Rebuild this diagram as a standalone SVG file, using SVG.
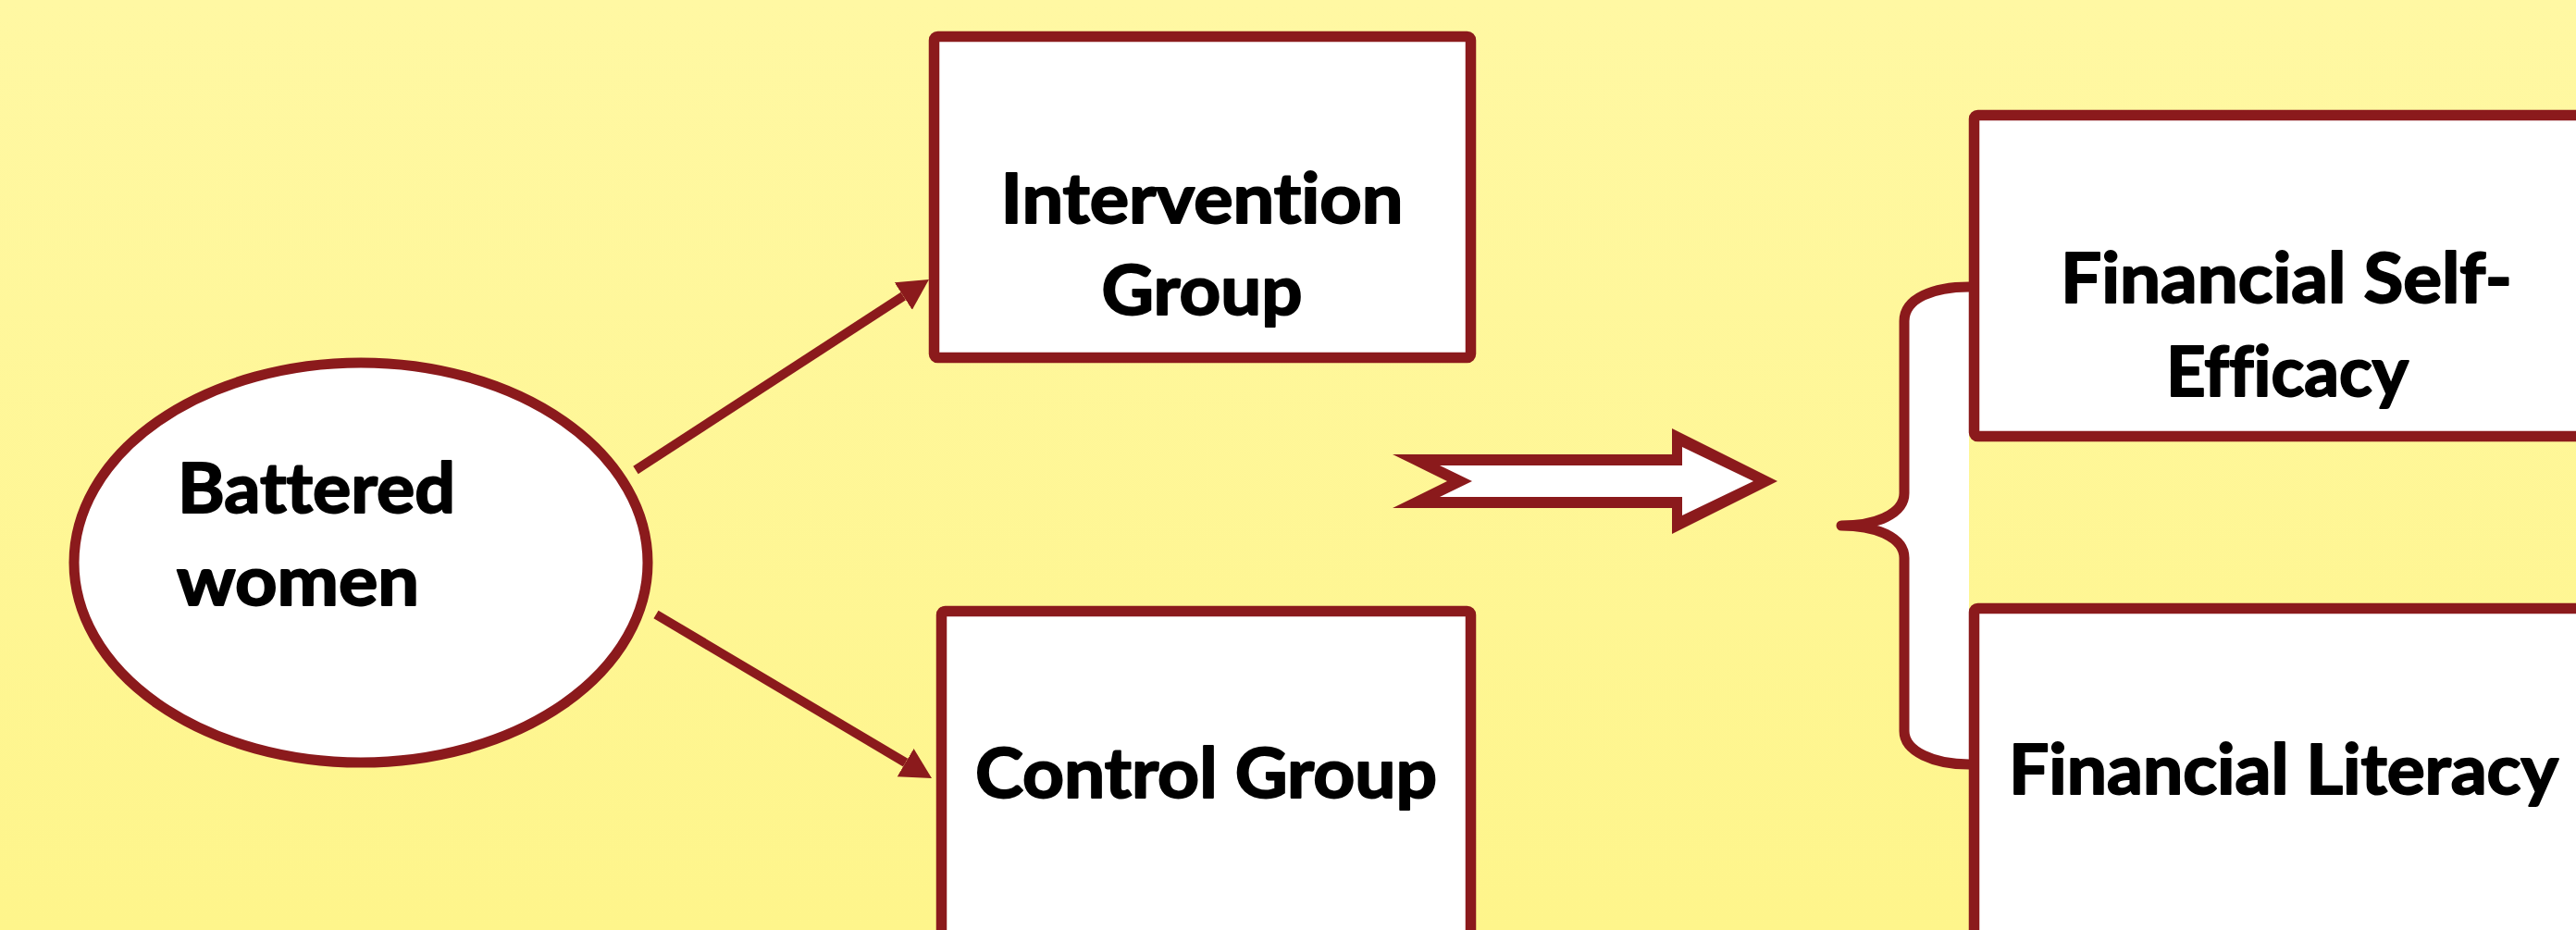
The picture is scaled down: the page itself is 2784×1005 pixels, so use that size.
<svg xmlns="http://www.w3.org/2000/svg" width="2784" height="1005" viewBox="0 0 2784 1005">
  <defs>
    <linearGradient id="bg" x1="0" y1="0" x2="0" y2="1">
      <stop offset="0" stop-color="#FFF8A3"/>
      <stop offset="1" stop-color="#FEF58B"/>
    </linearGradient>
    <marker id="head" markerUnits="userSpaceOnUse" markerWidth="34" markerHeight="36" refX="0" refY="17.5" orient="auto" viewBox="0 0 34 35">
      <path d="M0,0 L33,17.5 L0,35 z" fill="#8B1A1C"/>
    </marker>
    <style>
      .box { fill: #FFFFFF; stroke: #8B1A1C; stroke-width: 11.5; }
      .lbl { font-family: Lato, "Open Sans", "Liberation Sans", sans-serif; font-weight: 700; font-size: 75px; fill: #000000; stroke: #000000; stroke-width: 2; stroke-linejoin: round; font-variant-ligatures: none; font-feature-settings: "liga" 0, "clig" 0; }
      .mid { text-anchor: middle; }
      .conn { stroke: #8B1A1C; stroke-width: 10; fill: none; stroke-linecap: butt; }
    </style>
  </defs>

  <rect x="0" y="0" width="2784" height="1005" fill="url(#bg)"/>

  <g id="connectors">
    <line class="conn" x1="687" y1="508" x2="976.3" y2="320" marker-end="url(#head)"/>
    <line class="conn" x1="709" y1="664" x2="978.6" y2="824.1" marker-end="url(#head)"/>
    <g id="block-arrow">
      <polygon points="1505,491 1807,491 1807,463 1921,520 1807,577 1807,549 1505,549 1564,520" fill="#8B1A1C"/>
      <polygon points="1556,503 1818,503 1818,483 1895,520 1818,557 1818,537 1556,537 1591,520" fill="#FFFFFF"/>
    </g>
    <path id="brace" d="M2128,310 C2090,310 2058,322 2058,347 L2058,533 C2058,555 2028,568 1990,568 C2028,568 2058,581 2058,603 L2058,790 C2058,812 2090,826 2128,826" fill="#FFFFFF" stroke="#8B1A1C" stroke-width="11" stroke-linecap="round" stroke-linejoin="round"/>
  </g>

  <g id="battered-women">
    <ellipse cx="390" cy="608" rx="310" ry="216" fill="#FFFFFF" stroke="#8B1A1C" stroke-width="11"/>
    <text class="lbl" x="192" y="554" textLength="300" lengthAdjust="spacingAndGlyphs">Battered</text>
    <text class="lbl" x="191" y="654" textLength="262" lengthAdjust="spacingAndGlyphs">women</text>
  </g>

  <g id="intervention-group">
    <rect class="box" x="1009.5" y="39.5" width="580" height="347" rx="4"/>
    <text class="lbl mid" x="1299" y="241" textLength="435" lengthAdjust="spacingAndGlyphs">Intervention</text>
    <text class="lbl mid" x="1299" y="340" textLength="217" lengthAdjust="spacingAndGlyphs">Group</text>
  </g>

  <g id="control-group">
    <rect class="box" x="1017.5" y="660.5" width="572" height="500" rx="4"/>
    <text class="lbl mid" x="1303.5" y="862" textLength="499" lengthAdjust="spacingAndGlyphs">Control Group</text>
  </g>

  <g id="financial-self-efficacy">
    <rect class="box" x="2133.5" y="124.5" width="800" height="347" rx="4"/>
    <text class="lbl mid" x="2471" y="327" textLength="488" lengthAdjust="spacingAndGlyphs">Financial Self-</text>
    <text class="lbl mid" x="2472" y="428" textLength="262" lengthAdjust="spacingAndGlyphs">Efficacy</text>
  </g>

  <g id="financial-literacy">
    <rect class="box" x="2133.5" y="657.5" width="800" height="500" rx="4"/>
    <text class="lbl mid" x="2468" y="858" textLength="594" lengthAdjust="spacingAndGlyphs">Financial Literacy</text>
  </g>
</svg>
